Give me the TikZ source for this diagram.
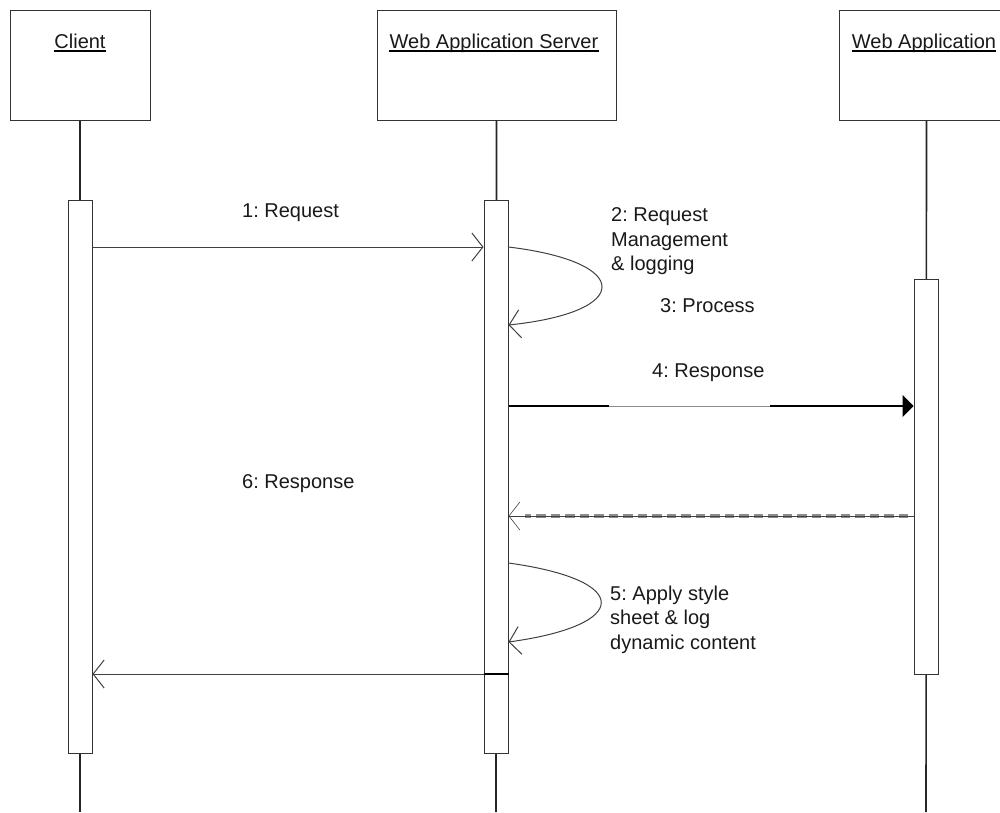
\documentclass[tikz,border=0pt]{standalone}
\usepackage{fontspec}
\setmainfont{Liberation Sans}
\usetikzlibrary{arrows.meta}
\begin{document}
\frenchspacing
\begin{tikzpicture}[x=1pt,y=-1pt,
  lbl/.style={font=\fontsize{20}{24.5}\selectfont, inner sep=0pt, align=left, text=black!90},
  objbox/.style={draw=black!80, line width=1pt, fill=white, inner sep=0pt},
  act/.style={draw=black!80, line width=1pt, fill=white, minimum width=24pt, inner sep=0pt},
  life/.style={draw=black!85, line width=1.6pt},
  uline/.style={draw=black, line width=2pt},
  msg/.style={draw=black!75, line width=1pt, -{Straight Barb[length=11pt,width=28pt]}},
  syncmsg/.style={draw=black, line width=2pt, -{Triangle[length=11pt,width=22pt]}},
]
\useasboundingbox (0,0) rectangle (1000,812);

% object boxes
\node[objbox, minimum width=140pt, minimum height=110pt] (cbox) at (80,65) {};
\node[objbox, minimum width=239pt, minimum height=110pt] (sbox) at (496.5,65) {};
\node[objbox, minimum width=175pt, minimum height=110pt] (abox) at (926.5,65) {};

\node[lbl, anchor=base] (ctext) at (80,48) {Client};
\node[lbl, anchor=base] (stext) at (494,48) {Web Application Server};
\node[lbl, anchor=base] (atext) at (924,48) {Web Application};
\draw[uline] ([yshift=-3pt]ctext.base west) -- ([yshift=-3pt]ctext.base east);
\draw[uline] ([yshift=-3pt]stext.base west) -- ([yshift=-3pt]stext.base east);
\draw[uline] ([yshift=-3pt]atext.base west) -- ([yshift=-3pt]atext.base east);

% lifelines
\coordinate (cend) at (80,812);
\coordinate (send) at (496,812);
\coordinate (aend) at (926,812);
\draw[life] (cbox.south) -- (cend);
\draw[life] (sbox.south) -- (send);
\draw[life] (abox.south) -- (aend);

% activations
\node[act, minimum height=553pt] (cact) at (80,476.5) {};
\node[act, minimum height=553pt] (sact) at (496,476.5) {};
\node[act, minimum height=395pt] (aact) at (926,476.5) {};

% message heights
\coordinate (y1) at (0,247);
\coordinate (y2a) at (0,247);
\coordinate (y2b) at (0,325);
\coordinate (y4) at (0,406);
\coordinate (y6) at (0,516);
\coordinate (y5a) at (0,563);
\coordinate (y5b) at (0,642);
\coordinate (y7) at (0,674);

% 1: Request
\draw[msg] (cact.east |- y1) -- (sact.west |- y1);
\node[lbl, anchor=base west] (l1) at (242,217) {1: Request};

% 2: self call
\draw[msg] (sact.east |- y2a) .. controls (633,262) and (633,312) .. (sact.east |- y2b);
\node[lbl, anchor=north west] (l2) at (611,207.7) {2: Request\\Management\\\& logging};
\node[lbl, anchor=base west] (l3) at (660,312) {3: Process};

% 4: Response
\draw[syncmsg] (sact.east |- y4) -- (aact.west |- y4);
\draw[white, line width=2.4pt] (609,406) -- (770,406);
\draw[black!45, line width=0.8pt] (609,406) -- (770,406);
\node[lbl, anchor=base west] (l4) at (652,377) {4: Response};

% return (dashed)
\draw[black!45, line width=3.5pt, dash pattern=on 9.5pt off 5pt] (908,516) -- (525,516);
\draw[msg, line width=0.6pt, draw=black!75] (aact.west |- y6) -- (sact.east |- y6);

% 5: self call
\draw[msg] (sact.east |- y5a) .. controls (632,580) and (632,625) .. (sact.east |- y5b);
\node[lbl, anchor=north west] (l5) at (610,585.7) {5: Apply style\\sheet \& log\\dynamic content};

% 6: Response
\draw[msg] (sact.east |- y7) -- (cact.east |- y7);
\draw[black, line width=1.5pt] (sact.west |- y7) -- (sact.east |- y7);
\node[lbl, anchor=base west] (l6) at (242,488) {6: Response};
\end{tikzpicture}
\end{document}
